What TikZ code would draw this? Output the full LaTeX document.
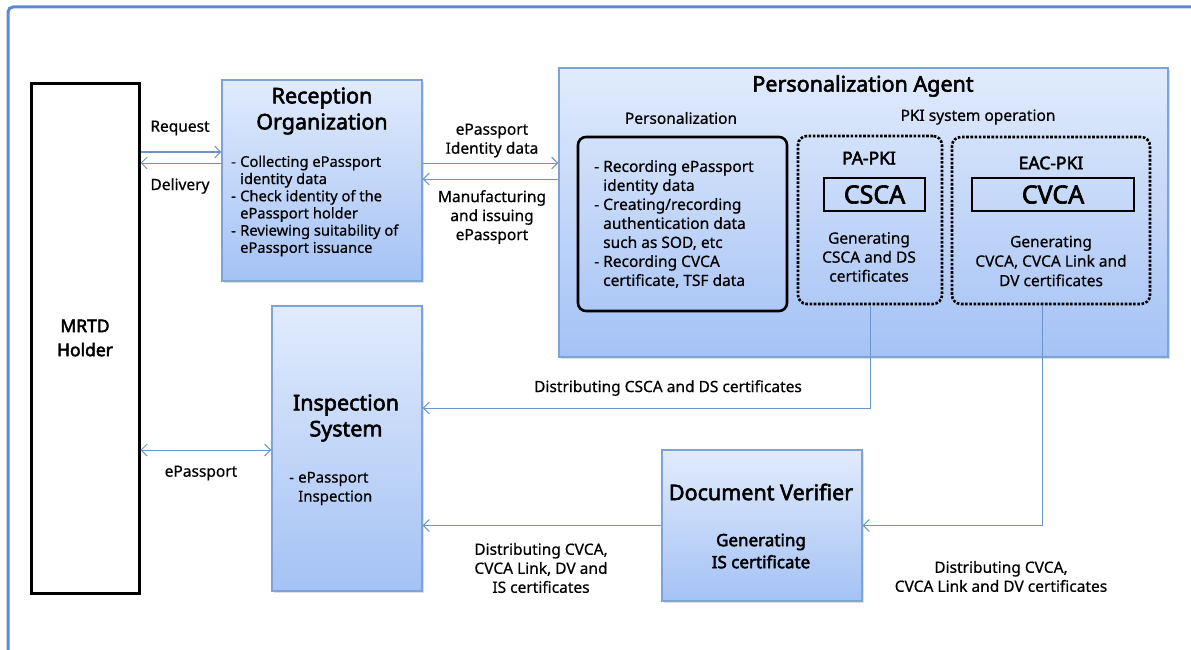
\documentclass[tikz,border=0pt]{standalone}
\usepackage{fontspec}
\setmainfont{Noto Sans}[UprightFeatures={FakeBold=0.6}, BoldFont={Noto Sans}, BoldFeatures={FakeBold=2.6}]
\usetikzlibrary{arrows.meta,shadows,calc}
\definecolor{frameblue}{HTML}{5B8BCF}
\definecolor{boxtop}{HTML}{E1EBFC}
\definecolor{boxbot}{HTML}{A4C2F5}
\definecolor{boxborder}{HTML}{7EA3D6}
\definecolor{arrowblue}{HTML}{6E95CA}
\newcommand{\bit}[1]{\makebox[9pt][l]{-}#1}
\newcommand{\cnt}[1]{\hspace*{9pt}#1}
\begin{document}
\begin{tikzpicture}[x=1pt,y=-1pt,
  bluebox/.style={draw=boxborder, line width=1.2pt, top color=boxtop, bottom color=boxbot,
    drop shadow={opacity=0.25,shadow xshift=2pt,shadow yshift=-2pt}, inner sep=0pt},
  blackbox/.style={draw=black, line width=2.6pt, inner sep=0pt},
  dotbox/.style={draw=black, line width=2.6pt, dash pattern=on 2.6pt off 1.6pt, rounded corners=9pt, inner sep=0pt},
  arr/.style={draw=arrowblue, line width=1pt, -{Straight Barb[length=6pt,width=12pt]}},
  dblarr/.style={draw=arrowblue, line width=1pt, {Straight Barb[length=6pt,width=12pt]}-{Straight Barb[length=6pt,width=12pt]}},
  title/.style={font=\fontsize{21.5}{26}\selectfont\bfseries, align=center, inner sep=0pt},
  body/.style={font=\fontsize{14.7}{17.2}\selectfont, align=left, inner sep=0pt},
  lbl/.style={font=\fontsize{15.5}{19}\selectfont, align=center, inner sep=0pt},
]
\useasboundingbox (0,0) rectangle (1191,650);
\clip (0,0) rectangle (1191,650);
% outer frame
\draw[frameblue, line width=3pt, rounded corners=5pt] (8,660) -- (8,7) -- (1200,7);

% y-levels
\coordinate (yreq) at (0,152);
\coordinate (ydel) at (0,163);
\coordinate (yid) at (0,163);
\coordinate (yman) at (0,179);
\coordinate (yep) at (0,450);
\coordinate (ydist) at (0,408);

% boxes
\node[draw=black, line width=3pt, fill=white, minimum width=108pt, minimum height=509pt, inner sep=0pt] (mrtd) at (85,338.5) {};
\node[bluebox, minimum width=200pt, minimum height=201pt] (ro) at (322,180.5) {};
\node[bluebox, minimum width=609pt, minimum height=289pt] (pa) at (863.5,212.5) {};
\node[blackbox, rounded corners=8pt, minimum width=209pt, minimum height=174pt] (pers) at (682.5,224) {};
\node[dotbox, minimum width=144pt, minimum height=168pt] (papki) at (870,220) {};
\node[dotbox, minimum width=198pt, minimum height=167pt] (eac) at (1051,220.5) {};
\node[blackbox, minimum width=101pt, minimum height=33pt, font=\fontsize{25}{25}\selectfont\bfseries] (csca) at (874.5,194.5) {CSCA};
\node[blackbox, minimum width=162pt, minimum height=33pt, font=\fontsize{25}{25}\selectfont\bfseries] (cvca) at (1053,194.5) {CVCA};
\node[bluebox, minimum width=150pt, minimum height=285pt] (is) at (347,448.5) {};
\node[bluebox, minimum width=200pt, minimum height=151pt] (dv) at (762,525.5) {};

% texts
\node[font=\fontsize{17.5}{24}\selectfont\bfseries, align=center, inner sep=0pt] (mrtdt) at (85,338) {MRTD\\Holder};
\node[title] (rot) at (322,111) {Reception\\Organization};
\node[body, anchor=west] (rob) at (231,206) {\bit{Collecting ePassport}\\\cnt{identity data}\\\bit{Check identity of the}\\\cnt{ePassport holder}\\\bit{Reviewing suitability of}\\\cnt{ePassport issuance}};
\node[lbl] (req) at (180,128) {Request};
\node[lbl] (del) at (180,186) {Delivery};
\node[lbl] (idl) at (492,140.5) {ePassport\\Identity data};
\node[lbl] (manl) at (492,217) {Manufacturing\\and issuing\\ePassport};
\node[title] (pat) at (863,86) {Personalization Agent};
\node[lbl] (perst) at (681,118) {Personalization};
\node[lbl] (pkit) at (978,117) {PKI system operation};
\node[body, anchor=west, font=\fontsize{15.5}{19}\selectfont] (persb) at (594,224) {\bit{Recording ePassport}\\\cnt{identity data}\\\bit{Creating/recording}\\\cnt{authentication data}\\\cnt{such as SOD, etc}\\\bit{Recording CVCA}\\\cnt{certificate, TSF data}};
\node[lbl, font=\fontsize{17.5}{19}\selectfont\bfseries] (papkit) at (869,158) {PA-PKI};
\node[lbl, font=\fontsize{17.5}{19}\selectfont\bfseries] (eact) at (1051,163) {EAC-PKI};
\node[lbl] (papkib) at (869,257) {Generating\\CSCA and DS\\certificates};
\node[lbl, font=\fontsize{15.5}{19.5}\selectfont] (eacb) at (1051,261) {Generating\\CVCA, CVCA Link and\\DV certificates};
\node[title] (ist) at (346,418) {Inspection\\System};
\node[body, anchor=west, font=\fontsize{15}{19}\selectfont] (isb) at (289,488.5) {\bit{ePassport}\\\cnt{Inspection}};
\node[lbl] (epl) at (201,473) {ePassport};
\node[lbl] (dcsca) at (668,388) {Distributing CSCA and DS certificates};
\node[lbl] (dcvca) at (541,568) {Distributing CVCA,\\CVCA Link, DV and\\IS certificates};
\node[title] (dvt) at (761,492) {Document Verifier};
\node[title, font=\fontsize{17}{22}\selectfont\bfseries] (dvb) at (761,551) {Generating\\IS certificate};
\node[lbl] (dcvca2) at (1001,576.5) {Distributing CVCA,\\CVCA Link and DV certificates};

% connectors
\draw[arr] (mrtd.east |- yreq) -- (ro.west |- yreq);
\draw[arr] (ro.west |- ydel) -- (mrtd.east |- ydel);
\draw[arr] (ro.east |- yid) -- (pa.west |- yid);
\draw[arr] (pa.west |- yman) -- (ro.east |- yman);
\draw[dblarr] (mrtd.east |- yep) -- (is.west |- yep);
\draw[arr] (papki.south) -- (papki.south |- ydist) -- (is.east |- ydist);
\draw[arr] ([xshift=-9pt]eac.south) |- (dv.east);
\draw[arr] (dv.west) -- (is.east |- dv.west);
\end{tikzpicture}
\end{document}
